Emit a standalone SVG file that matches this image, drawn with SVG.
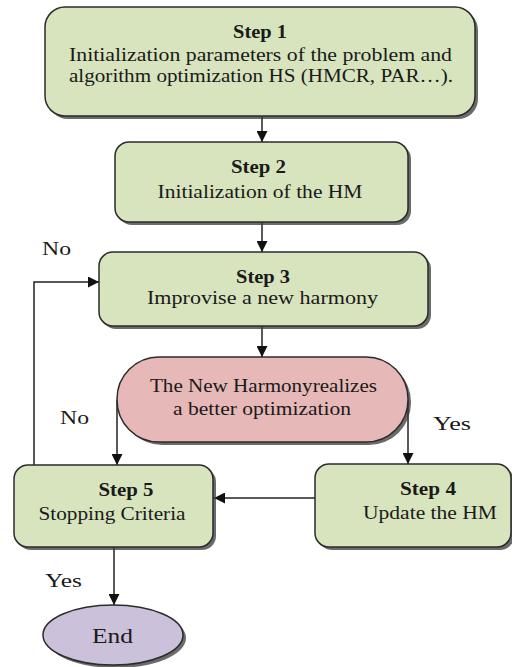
<svg xmlns="http://www.w3.org/2000/svg" width="512" height="667" viewBox="0 0 512 667">
<defs>
<style>
.box{fill:#d7e4bd;stroke:#2b2b2b;stroke-width:1.5}
.dec{fill:#e6b8b7;stroke:#2b2b2b;stroke-width:1.5}
.end{fill:#ccc1da;stroke:#2b2b2b;stroke-width:1.5}
.sh{fill:#3a3a3a;opacity:0.75}
.t{font-family:"Liberation Serif","Times New Roman",serif;font-size:18px;fill:#1a1a1a;text-anchor:middle}
.b{font-weight:bold}
.lbl{font-family:"Liberation Serif","Times New Roman",serif;font-size:19px;fill:#1a1a1a}
.c{fill:none;stroke:#222;stroke-width:1.5}
</style>
<marker id="ar" viewBox="0 0 10 10" refX="10" refY="5" markerWidth="8" markerHeight="8" markerUnits="userSpaceOnUse" orient="auto">
<path d="M0,0 L10,5 L0,10 z" fill="#111"/>
</marker>
<marker id="ah" viewBox="0 0 10 10" refX="10" refY="5" markerWidth="11" markerHeight="11" markerUnits="userSpaceOnUse" orient="auto">
<path d="M0,0 L10,5 L0,10 z" fill="#111"/>
</marker>
</defs>
<rect width="512" height="667" fill="#ffffff"/>
<g id="connectors">
<line class="c" x1="262" y1="117" x2="262" y2="142" marker-end="url(#ah)"/>
<line class="c" x1="262" y1="222" x2="262" y2="252" marker-end="url(#ah)"/>
<line class="c" x1="262" y1="326" x2="262" y2="357" marker-end="url(#ah)"/>
<polyline class="c" points="34,465 34,282 99,282" marker-end="url(#ah)"/>
<line class="c" x1="117" y1="400" x2="117" y2="465" marker-end="url(#ah)"/>
<line class="c" x1="408" y1="400" x2="408" y2="464" marker-end="url(#ah)"/>
<line class="c" x1="315" y1="498" x2="214" y2="498" marker-end="url(#ah)"/>
<line class="c" x1="114" y1="547" x2="114" y2="605" marker-end="url(#ah)"/>
</g>
<g id="step1">
<rect class="sh" x="48" y="10" width="430" height="109" rx="20"/>
<rect class="box" x="45" y="7" width="430" height="109" rx="20"/>
<text class="t b" x="260" y="38" textLength="54" lengthAdjust="spacingAndGlyphs">Step 1</text>
<text class="t" x="260.5" y="61" textLength="383" lengthAdjust="spacingAndGlyphs">Initialization parameters of the problem and</text>
<text class="t" x="261" y="82" textLength="384" lengthAdjust="spacingAndGlyphs">algorithm optimization HS (HMCR, PAR…).</text>
</g>
<g id="step2">
<rect class="sh" x="118" y="145" width="293" height="80" rx="14"/>
<rect class="box" x="115" y="142" width="293" height="80" rx="14"/>
<text class="t b" x="258.5" y="173" textLength="55" lengthAdjust="spacingAndGlyphs">Step 2</text>
<text class="t" x="260" y="198" textLength="205" lengthAdjust="spacingAndGlyphs">Initialization of the HM</text>
</g>
<g id="step3">
<rect class="sh" x="102" y="255" width="329" height="74" rx="14"/>
<rect class="box" x="99" y="252" width="329" height="74" rx="14"/>
<text class="t b" x="263" y="283" textLength="54" lengthAdjust="spacingAndGlyphs">Step 3</text>
<text class="t" x="262.5" y="304" textLength="231" lengthAdjust="spacingAndGlyphs">Improvise a new harmony</text>
</g>
<g id="decision">
<rect class="sh" x="120" y="360" width="291" height="85" rx="42"/>
<rect class="dec" x="117" y="357" width="291" height="85" rx="42"/>
<text class="t" x="263.5" y="392" textLength="227" lengthAdjust="spacingAndGlyphs">The New Harmonyrealizes</text>
<text class="t" x="262" y="415" textLength="178" lengthAdjust="spacingAndGlyphs">a better optimization</text>
</g>
<g id="step4">
<rect class="sh" x="318" y="467" width="196" height="83" rx="14"/>
<rect class="box" x="315" y="464" width="196" height="83" rx="14"/>
<text class="t b" x="428" y="495" textLength="56" lengthAdjust="spacingAndGlyphs">Step 4</text>
<text class="t" x="430" y="519" textLength="134" lengthAdjust="spacingAndGlyphs">Update the HM</text>
</g>
<g id="step5">
<rect class="sh" x="17" y="468" width="199" height="82" rx="14"/>
<rect class="box" x="14" y="465" width="199" height="82" rx="14"/>
<text class="t b" x="126" y="496" textLength="55" lengthAdjust="spacingAndGlyphs">Step 5</text>
<text class="t" x="112" y="520" textLength="147" lengthAdjust="spacingAndGlyphs">Stopping Criteria</text>
</g>
<g id="end">
<ellipse class="sh" cx="116" cy="638" rx="70" ry="30"/>
<ellipse class="end" cx="113" cy="635" rx="70" ry="30"/>
<text class="t" x="112.5" y="643" style="font-size:20px" textLength="41" lengthAdjust="spacingAndGlyphs">End</text>
</g>
<g id="labels">
<text class="lbl" x="42" y="255" textLength="29" lengthAdjust="spacingAndGlyphs">No</text>
<text class="lbl" x="60" y="424" textLength="29" lengthAdjust="spacingAndGlyphs">No</text>
<text class="lbl" x="433" y="430" textLength="38" lengthAdjust="spacingAndGlyphs">Yes</text>
<text class="lbl" x="45" y="587" textLength="37" lengthAdjust="spacingAndGlyphs">Yes</text>
</g>
</svg>
